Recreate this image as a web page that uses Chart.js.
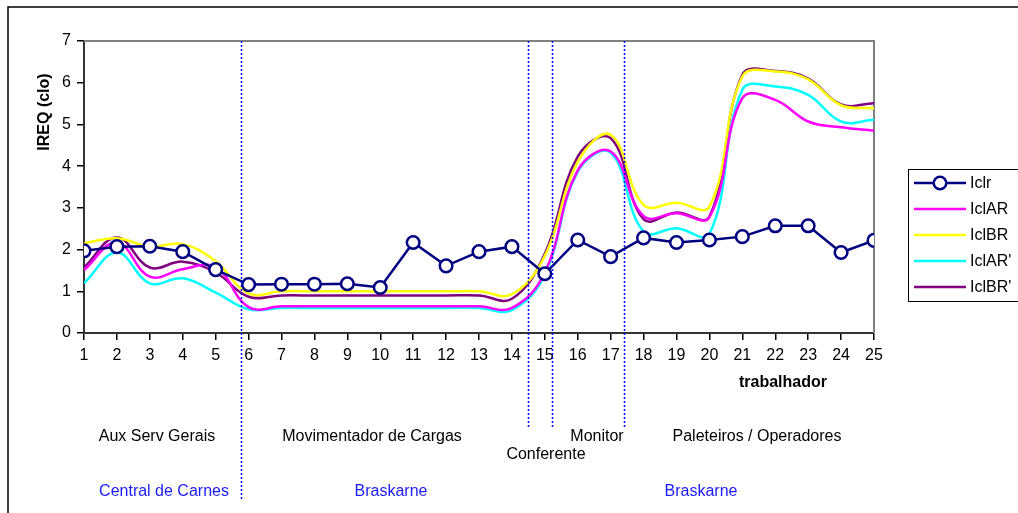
<!DOCTYPE html>
<html>
<head>
<meta charset="utf-8">
<script src="https://cdn.jsdelivr.net/npm/chart.js@4/dist/chart.umd.min.js"></script>
<style>
  html, body { margin: 0; padding: 0; background: #fff; }
  #wrap { width: 1018px; height: 513px; position: relative; }
</style>
</head>
<body>
<div id="wrap"><canvas id="c" width="1018" height="513"></canvas></div>
<script>
// ---- data ----
const workers = [1,2,3,4,5,6,7,8,9,10,11,12,13,14,15,16,17,18,19,20,21,22,23,24,25];
const iclr   = [1.97,2.07,2.08,1.95,1.52,1.16,1.17,1.17,1.18,1.09,2.17,1.61,1.95,2.07,1.42,2.23,1.83,2.28,2.17,2.23,2.31,2.57,2.57,1.93,2.22];
const iclAR  = [1.51,2.17,1.35,1.53,1.58,0.62,0.64,0.64,0.64,0.64,0.64,0.64,0.64,0.60,1.45,3.90,4.35,2.80,2.87,2.78,5.63,5.59,5.07,4.93,4.85];
const iclBR  = [2.15,2.27,2.07,2.13,1.72,0.95,1.00,1.00,1.00,1.00,1.00,1.00,1.00,0.93,1.85,4.10,4.75,3.07,3.12,3.03,6.15,6.27,6.08,5.46,5.39];
const iclARp = [1.19,1.93,1.19,1.31,0.97,0.57,0.60,0.60,0.60,0.60,0.60,0.60,0.60,0.55,1.40,3.87,4.32,2.43,2.51,2.37,5.83,5.91,5.71,5.07,5.11];
const iclBRp = [1.57,2.29,1.57,1.71,1.45,0.87,0.90,0.90,0.90,0.90,0.90,0.90,0.90,0.82,1.90,4.23,4.67,2.73,2.89,2.79,6.19,6.28,6.10,5.48,5.51];
const seriesNames = ["Iclr","IclAR","IclBR","IclAR'","IclBR'"];
const yTicks = [0,1,2,3,4,5,6,7];
const dividerX = [5.77, 14.49, 15.22, 17.40];
const groupLabels = ["Aux Serv Gerais","Movimentador de Cargas","Conferente","Monitor","Paleteiros / Operadores"];
const companyLabels = ["Central de Carnes","Braskarne","Braskarne"];
const xTitle = "trabalhador";
const yTitle = "IREQ (clo)";

const FONT = "'Liberation Sans', Arial, sans-serif";
const pts = arr => workers.map((w,i) => ({x: w, y: arr[i]}));

const overlay = {
  id: 'overlay',
  beforeDatasetsDraw(chart) {
    const {ctx, chartArea: a} = chart;
    ctx.save();
    ctx.strokeStyle = '#808080';
    ctx.lineWidth = 2;
    ctx.beginPath();
    ctx.moveTo(a.left, a.top); ctx.lineTo(a.right, a.top); ctx.lineTo(a.right, a.bottom);
    ctx.stroke();
    ctx.restore();
  },
  afterDraw(chart) {
    const {ctx, chartArea: a, scales} = chart;
    ctx.save();
    // outer frame
    ctx.strokeStyle = '#000'; ctx.lineWidth = 1.5;
    ctx.beginPath(); ctx.moveTo(8, 520); ctx.lineTo(8, 7); ctx.lineTo(1030, 7); ctx.stroke();
    // dividers
    ctx.strokeStyle = '#0000FF'; ctx.lineWidth = 1.5; ctx.setLineDash([2,2]);
    const bottoms = [500, 427, 427, 427];
    dividerX.forEach((v,i) => {
      const px = Math.round(scales.x.getPixelForValue(v)) + 0.5;
      ctx.beginPath(); ctx.moveTo(px, a.top); ctx.lineTo(px, bottoms[i]); ctx.stroke();
    });
    ctx.setLineDash([]);
    // texts
    ctx.textAlign = 'center'; ctx.textBaseline = 'middle';
    ctx.fillStyle = '#000';
    ctx.font = 'bold 16px ' + FONT;
    ctx.fillText(xTitle, 783, 383);
    ctx.save();
    ctx.translate(45, 112); ctx.rotate(-Math.PI/2);
    ctx.fillText(yTitle, 0, 0);
    ctx.restore();
    ctx.font = '16px ' + FONT;
    const gpos = [[157,437],[372,437],[546,455],[597,437],[757,437]];
    groupLabels.forEach((t,i) => ctx.fillText(t, gpos[i][0], gpos[i][1]));
    ctx.fillStyle = '#1a1aff';
    const cpos = [[164,492],[391,492],[701,492]];
    companyLabels.forEach((t,i) => ctx.fillText(t, cpos[i][0], cpos[i][1]));
    // legend
    ctx.strokeStyle = '#000'; ctx.lineWidth = 1;
    ctx.strokeRect(908.5, 169.5, 130, 132);
    const rows = [183, 209, 235, 261, 287];
    ctx.textAlign = 'left';
    ctx.fillStyle = '#000';
    chart.data.datasets.forEach((ds,i) => {
      const y = rows[i];
      ctx.strokeStyle = ds.borderColor; ctx.lineWidth = ds.borderWidth;
      ctx.beginPath(); ctx.moveTo(914, y); ctx.lineTo(966, y); ctx.stroke();
      if (ds.pointRadius > 0) {
        ctx.beginPath(); ctx.arc(940, y, ds.pointRadius, 0, Math.PI*2);
        ctx.fillStyle = '#fff'; ctx.fill();
        ctx.lineWidth = ds.pointBorderWidth; ctx.strokeStyle = ds.pointBorderColor; ctx.stroke();
      }
      ctx.fillStyle = '#000';
      ctx.fillText(ds.label, 970, y + 1);
    });
    ctx.restore();
  }
};

const smooth = (label, data, color) => ({
  label, data: pts(data), borderColor: color, backgroundColor: color,
  borderWidth: 2.5, pointRadius: 0, pointHoverRadius: 0, tension: 0.4, fill: false
});

new Chart(document.getElementById('c'), {
  type: 'line',
  data: {
    datasets: [
      { label: seriesNames[0], data: pts(iclr), borderColor: '#000080', backgroundColor: '#fff',
        borderWidth: 2.5, pointRadius: 6.3, pointBorderWidth: 2.5, pointBorderColor: '#000080',
        pointBackgroundColor: '#fff', tension: 0, fill: false },
      smooth(seriesNames[1], iclAR, '#FF00FF'),
      smooth(seriesNames[2], iclBR, '#FFFF00'),
      smooth(seriesNames[3], iclARp, '#00FFFF'),
      smooth(seriesNames[4], iclBRp, '#800080')
    ]
  },
  options: {
    responsive: false, animation: false,
    layout: { padding: { top: 41, right: 144, left: 0, bottom: 0 } },
    plugins: { legend: { display: false }, tooltip: { enabled: false } },
    scales: {
      x: {
        type: 'linear', min: 1, max: 25,
        afterFit: s => { s.height = 180; },
        afterBuildTicks: s => { s.ticks = workers.map(v => ({value: v})); },
        ticks: { color: '#000', font: { size: 16, family: FONT }, padding: 6, maxRotation: 0, autoSkip: false },
        grid: { drawOnChartArea: false, drawTicks: true, tickLength: 7, color: '#000', lineWidth: 1.5 },
        border: { color: '#333', width: 2 }
      },
      y: {
        min: 0, max: 7,
        afterFit: s => { s.width = 84; },
        afterBuildTicks: s => { s.ticks = yTicks.map(v => ({value: v})); },
        ticks: { color: '#000', font: { size: 16, family: FONT }, padding: 6 },
        grid: { drawOnChartArea: false, drawTicks: true, tickLength: 7, color: '#000', lineWidth: 1.5 },
        border: { color: '#333', width: 2 }
      }
    }
  },
  plugins: [overlay]
});
</script>
</body>
</html>
